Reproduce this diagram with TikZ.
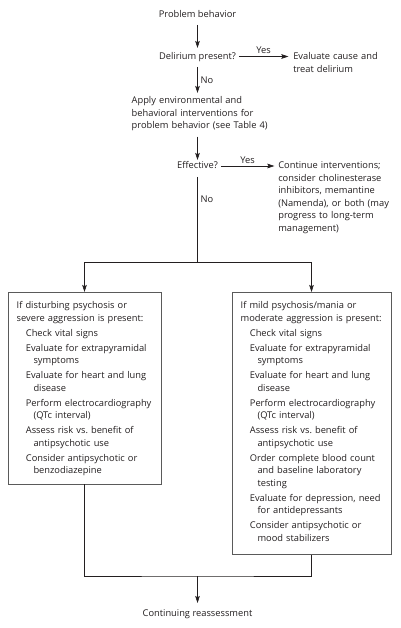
\documentclass[tikz,border=0pt]{standalone}
\usepackage{fontspec}
\setmainfont{Open Sans}
\usetikzlibrary{arrows.meta}
\definecolor{txt}{HTML}{231F20}
\definecolor{lnc}{HTML}{231F20}
\definecolor{boxc}{HTML}{5A5A5A}
\newcommand{\ia}{\hspace*{9.2pt}}
\newcommand{\ic}{\hspace*{16.8pt}}
\begin{document}
\begin{tikzpicture}[x=1pt,y=-1pt,
  every node/.style={font=\fontsize{9.3}{12.5}\selectfont, text=txt, inner sep=0pt, outer sep=0pt},
  conn/.style={draw=lnc, line width=0.6pt},
  arr/.style={conn, -{Stealth[length=7pt,width=4.6pt,inset=1.3pt]}},
  boxst/.style={draw=boxc, line width=0.7pt, fill=white, rectangle},
  lbl/.style={font=\fontsize{9.3}{12.5}\selectfont},
  multi/.style={align=left, anchor=base west}]
\useasboundingbox (0,0) rectangle (400,628);
\fill[white] (0,0) rectangle (400,628);

% top flow
\node[anchor=base] (pb) at (197.5,18) {Problem behavior};
\node[anchor=base] (dp) at (197.5,60) {Delirium present?};
\node[multi, text width=110pt] (ev) at (293.3,60) {Evaluate cause and\\treat delirium};
\node[multi, text width=150pt] (ap) at (131.7,104) {Apply environmental and\\behavioral interventions for\\problem behavior (see Table 4)};
\node[anchor=base] (ef) at (197.5,169) {Effective?};
\node[multi, text width=120pt] (co) at (278.3,169) {Continue interventions;\\consider cholinesterase\\inhibitors, memantine\\(Namenda), or both (may\\progress to long-term\\management)};

% boxes
\node[boxst, anchor=north west, minimum width=153pt, minimum height=192pt] (lb) at (8,292) {};
\node[boxst, anchor=north west, minimum width=159pt, minimum height=262.5pt] (rb) at (232,292) {};
\node[multi, text width=145pt] (lt) at (16.7,308.5) {If disturbing psychosis or\\
severe aggression is present:\\[2.5pt]
\ia Check vital signs\\[2.5pt]
\ia Evaluate for extrapyramidal\\
\ic symptoms\\[2.5pt]
\ia Evaluate for heart and lung\\
\ic disease\\[2.5pt]
\ia Perform electrocardiography\\
\ic (QTc interval)\\[2.5pt]
\ia Assess risk vs.\ benefit of\\
\ic antipsychotic use\\[2.5pt]
\ia Consider antipsychotic or\\
\ic benzodiazepine};
\node[multi, text width=148pt] (rt) at (240.7,308.5) {If mild psychosis/mania or\\
moderate aggression is present:\\[2.5pt]
\ia Check vital signs\\[2.5pt]
\ia Evaluate for extrapyramidal\\
\ic symptoms\\[2.5pt]
\ia Evaluate for heart and lung\\
\ic disease\\[2.5pt]
\ia Perform electrocardiography\\
\ic (QTc interval)\\[2.5pt]
\ia Assess risk vs.\ benefit of\\
\ic antipsychotic use\\[2.5pt]
\ia Order complete blood count\\
\ic and baseline laboratory\\
\ic testing\\[2.5pt]
\ia Evaluate for depression, need\\
\ic for antidepressants\\[2.5pt]
\ia Consider antipsychotic or\\
\ic mood stabilizers};

\node[anchor=base] (cr) at (197.5,616) {Continuing reassessment};

\coordinate (sp) at (197.5,262);
\coordinate (jn) at (197.5,576);

% connectors
\draw[arr] ([yshift=-7pt]pb.base) -- ([yshift=12pt]dp.base);
\draw[arr] ([shift={(3pt,3.5pt)}]dp.base east) -- node[lbl, above=2.5pt] (y1) {Yes} ([shift={(-5pt,3.5pt)}]ev.base west);
\draw[arr, shorten >=11pt] ([yshift=-7pt]dp.base) -- node[lbl, right=3pt, pos=0.36] (n1) {No} (dp.base |- ap.base);
\draw[arr, shorten <=5.5pt, shorten >=9pt] (ef.base |- ap.south) -- (ef.base);
\draw[arr] ([shift={(3pt,3pt)}]ef.base east) -- node[lbl, above=2.5pt] (y2) {Yes} ([shift={(-4pt,3pt)}]co.base west);
\draw[conn] ([yshift=-8pt]ef.base) -- node[lbl, right=3pt, pos=0.26] (n2) {No} (sp);
\draw[arr] (sp) -| (lb.north);
\draw[arr] (sp) -| (rb.north);
\draw[conn] (lb.south) |- (jn) -| (rb.south);
\draw[arr] (jn) -- ([yshift=13pt]cr.base);
\end{tikzpicture}
\end{document}
